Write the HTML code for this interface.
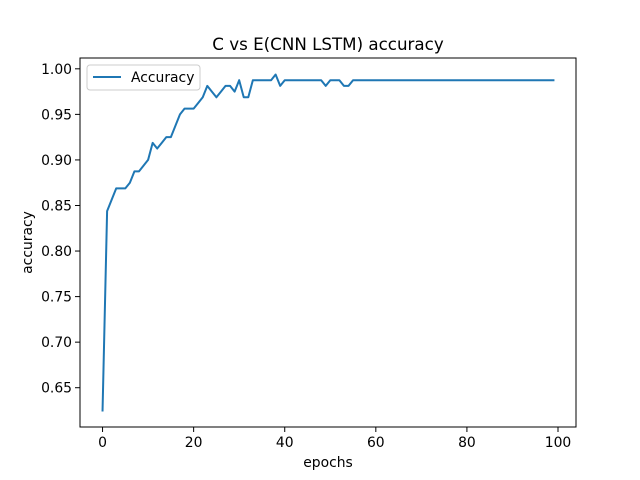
<!DOCTYPE html>
<html><head><meta charset="utf-8"><style>body{margin:0;background:#fff}svg{display:block}text{font-family:"DejaVu Sans","Liberation Sans",sans-serif;fill:#000}</style></head>
<body>
<svg id="chart" width="640" height="480" viewBox="0 0 640 480"></svg>
<script>
const xTicks=[0,20,40,60,80,100];
const yTicks=[0.65,0.70,0.75,0.80,0.85,0.90,0.95,1.00];
const head=[0.625,0.84375,0.85625,0.86875,0.86875,0.86875,0.875,0.8875,0.8875,0.89375,0.9,0.91875,0.9125,0.91875,0.925,0.925,0.9375,0.95,0.95625,0.95625,0.95625,0.9625,0.96875,0.98125,0.975,0.96875,0.975,0.98125,0.98125,0.975,0.9875,0.96875,0.96875,0.9875,0.9875,0.9875,0.9875,0.9875,0.99375,0.98125,0.9875,0.9875,0.9875,0.9875,0.9875,0.9875,0.9875,0.9875,0.9875,0.98125,0.9875,0.9875,0.9875,0.98125,0.98125];
const tail=new Array(45).fill(0.9875);
const accuracy=head.concat(tail);
const NS='http://www.w3.org/2000/svg';
const svg=document.getElementById('chart');
const L=80,R=576,T=58,B=427;
const xmin=-4.95,xmax=103.95,ymin=0.606875,ymax=1.011875;
const xs=v=>L+(v-xmin)/(xmax-xmin)*(R-L);
const ys=v=>B-(v-ymin)/(ymax-ymin)*(B-T);
function el(t,a,p){const e=document.createElementNS(NS,t);for(const k in a)e.setAttribute(k,a[k]);(p||svg).appendChild(e);return e;}
const pts=accuracy.map((v,i)=>xs(i).toFixed(2)+','+ys(v).toFixed(2)).join(' ');
const line=el('polyline',{points:pts,fill:'none',stroke:'#1f77b4','stroke-width':2,'stroke-linejoin':'round','stroke-linecap':'square'});


const frame=el('rect',{x:L,y:T,width:R-L,height:B-T,fill:'none',stroke:'#000','stroke-width':1});


xTicks.forEach(v=>{const x=xs(v);el('line',{x1:x,x2:x,y1:B,y2:B+5,stroke:'#000','stroke-width':1});
const t=el('text',{x:x,y:B+20,'font-size':13.9,'text-anchor':'middle'});t.textContent=v;

});
yTicks.forEach(v=>{const y=ys(v);el('line',{x1:L-5,x2:L,y1:y,y2:y,stroke:'#000','stroke-width':1});
const t=el('text',{x:L-8,y:y+5,'font-size':13.9,'text-anchor':'end'});t.textContent=v.toFixed(2);

});
const title=el('text',{x:(L+R)/2,y:50,'font-size':16.7,'text-anchor':'middle'});title.textContent='C vs E(CNN LSTM) accuracy';


const xl=el('text',{x:(L+R)/2,y:467,'font-size':13.9,'text-anchor':'middle'});xl.textContent='epochs';


const yl=el('text',{x:0,y:0,'font-size':13.9,'text-anchor':'middle',transform:'translate(32,'+((T+B)/2)+') rotate(-90)'});yl.textContent='accuracy';


const lg=el('g',{});


el('rect',{x:87,y:65,width:113,height:25,rx:3,fill:'#fff',stroke:'#ccc','stroke-width':1},lg);
el('line',{x1:93,x2:121,y1:77,y2:77,stroke:'#1f77b4','stroke-width':2},lg);
const lt=el('text',{x:131,y:82,'font-size':13.9},lg);lt.textContent='Accuracy';


</script>
</body></html>
